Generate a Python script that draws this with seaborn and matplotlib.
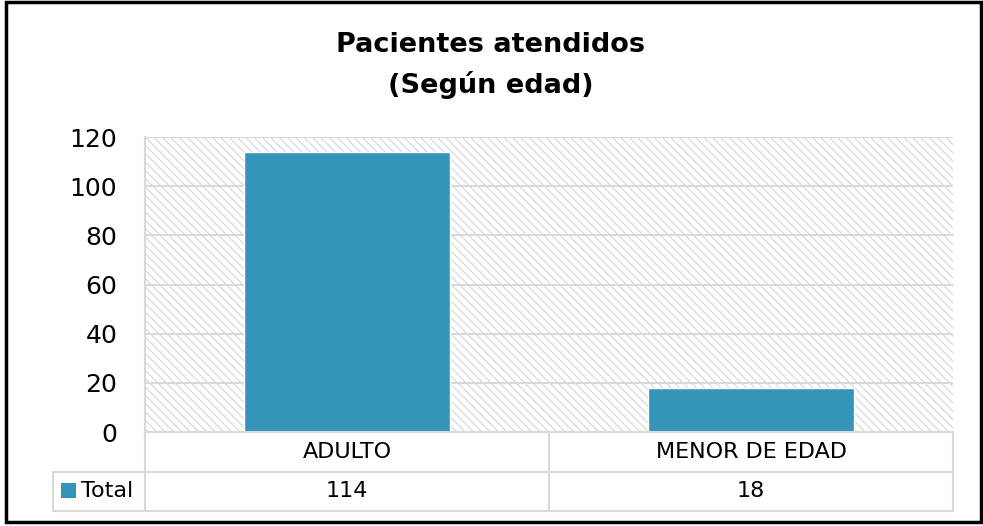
import matplotlib
matplotlib.use("Agg")
import matplotlib.pyplot as plt
import matplotlib.transforms as mtransforms
from matplotlib.patches import Rectangle
from matplotlib.lines import Line2D
import seaborn as sns
import pandas as pd

categories = ["ADULTO", "MENOR DE EDAD"]
values = [114, 18]
series_name = "Total"
title_lines = ["Pacientes atendidos", "(Según edad)"]
yticks = [0, 20, 40, 60, 80, 100, 120]

BAR = "#3494BA"
GRID = "#D9D9D9"

sns.set_theme(style="white")
plt.rcParams['font.family'] = ['DejaVu Sans']
plt.rcParams['text.color'] = 'black'
plt.rcParams['hatch.linewidth'] = 0.8
plt.rcParams['hatch.color'] = '#D6D6D6'

W, H = 983, 526
fig = plt.figure(figsize=(W / 100, H / 100), dpi=100)


def fx(x):
    return x / W


def fy(y):
    return 1 - y / H


L, R, T, B = 145, 953, 137, 432
ax = fig.add_axes([fx(L), fy(B), fx(R) - fx(L), fy(T) - fy(B)])

df = pd.DataFrame({"cat": categories, "val": values})
# hatched background
ax.add_patch(Rectangle((0, 0), 1, 1, transform=ax.transAxes, facecolor="white",
                       edgecolor="#D6D6D6", hatch="\\\\\\\\", linewidth=0, zorder=0))
sns.barplot(data=df, x="cat", y="val", color=BAR, saturation=1, width=0.51, ax=ax, zorder=3)

ax.set_ylim(0, 120)
ax.set_yticks(yticks)
ax.set_yticklabels([str(v) for v in yticks], fontsize=18, color="black")
ax.tick_params(axis="y", length=0, pad=20)
ax.set_xticks([])
ax.set_xlabel("")
ax.set_ylabel("")
for v in yticks:
    ax.axhline(v, color=GRID, linewidth=1.5, zorder=1)
for s in ["top", "right", "bottom"]:
    ax.spines[s].set_visible(False)
ax.spines["left"].set_color(GRID)
ax.spines["left"].set_linewidth(1.5)

# data table
fig_lines = [
    ((L, R), (B, B)),
    ((53, R), (472, 472)),
    ((53, R), (511, 511)),
    ((L, L), (B, 511)),
    ((549, 549), (B, 511)),
    ((R, R), (B, 511)),
    ((53, 53), (472, 511)),
]
for xs, ys in fig_lines:
    fig.add_artist(Line2D([fx(xs[0]), fx(xs[1])], [fy(ys[0]), fy(ys[1])],
                          color=GRID, linewidth=1.5, transform=fig.transFigure))

blend = mtransforms.blended_transform_factory(ax.transData, fig.transFigure)
for i, (c, v) in enumerate(zip(categories, values)):
    fig.text(i, fy(452), c, transform=blend, ha="center", va="center", fontsize=16, color="black")
    fig.text(i, fy(491), str(v), transform=blend, ha="center", va="center", fontsize=16, color="black")

fig.add_artist(Rectangle((fx(61), fy(498)), fx(76) - fx(61), fy(483) - fy(498),
                         transform=fig.transFigure, facecolor=BAR, edgecolor="none"))
fig.text(fx(81), fy(491), series_name, ha="left", va="center", fontsize=16, color="black")

# title
fig.text(fx(491), fy(45), title_lines[0], ha="center", va="center", fontsize=19.5,
         fontweight="bold", color="black")
fig.text(fx(491), fy(85), title_lines[1], ha="center", va="center", fontsize=19.5,
         fontweight="bold", color="black")

# outer border
fig.add_artist(Rectangle((fx(6), fy(522)), fx(981) - fx(6), fy(2) - fy(522),
                         transform=fig.transFigure, facecolor="none", edgecolor="black", linewidth=2.5))

fig.savefig("out.png", dpi=100)
